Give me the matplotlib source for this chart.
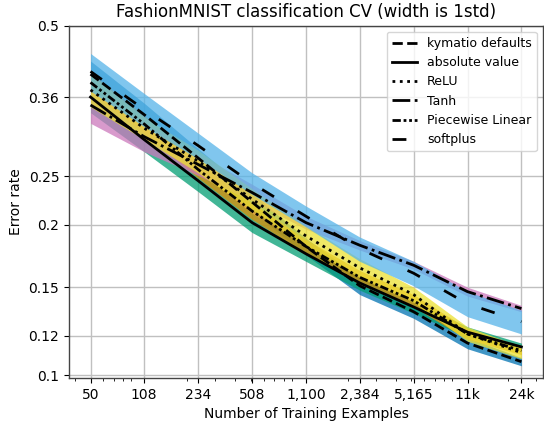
import matplotlib
matplotlib.use('Agg')
import matplotlib.pyplot as plt
from matplotlib.ticker import NullLocator
import numpy as np

# training set sizes and tick labels
n_train = [50, 108, 234, 508, 1100, 2384, 5165, 11191, 24248]
x_labels = ['50', '108', '234', '508', '1,100', '2,384', '5,165', '11k', '24k']
y_ticks = [0.1, 0.12, 0.15, 0.2, 0.25, 0.36, 0.5]

# mean CV error per nonlinearity
kymatio = [0.400, 0.332, 0.272, 0.222, 0.181, 0.151, 0.134, 0.116, 0.1065]
absolute = [0.360, 0.296, 0.245, 0.202, 0.175, 0.153, 0.137, 0.122, 0.114]
relu = [0.372, 0.312, 0.268, 0.225, 0.190, 0.164, 0.145, 0.121, 0.111]
tanh = [0.347, 0.300, 0.264, 0.232, 0.202, 0.182, 0.166, 0.147, 0.136]
piecewise = [0.385, 0.318, 0.258, 0.213, 0.181, 0.157, 0.141, 0.121, 0.112]
softplus = [0.405, 0.340, 0.288, 0.242, 0.208, 0.179, 0.160, 0.139, 0.128]

# one standard deviation
kymatio_std = [0.025, 0.018, 0.012, 0.009, 0.007, 0.006, 0.004, 0.003, 0.002]
absolute_std = [0.025, 0.016, 0.012, 0.009, 0.006, 0.005, 0.004, 0.003, 0.002]
relu_std = [0.028, 0.016, 0.014, 0.011, 0.009, 0.007, 0.005, 0.004, 0.003]
tanh_std = [0.028, 0.020, 0.013, 0.009, 0.006, 0.004, 0.003, 0.003, 0.002]
piecewise_std = [0.018, 0.013, 0.010, 0.008, 0.006, 0.005, 0.004, 0.003, 0.002]
softplus_std = [0.035, 0.026, 0.017, 0.012, 0.010, 0.010, 0.009, 0.008, 0.007]

names = ['kymatio defaults', 'absolute value', 'ReLU', 'Tanh', 'Piecewise Linear', 'softplus']
means = [kymatio, absolute, relu, tanh, piecewise, softplus]
stds = [kymatio_std, absolute_std, relu_std, tanh_std, piecewise_std, softplus_std]
colors = ['#0173b2', '#029e73', '#ece133', '#cc78bc', '#de8f05', '#56b4e9']
styles = ['--', '-', ':', '-.', (0, (3, 1, 1, 1, 1, 1)), (0, (5, 10))]
fill_order = [0, 1, 4, 3, 2, 5]

fig = plt.figure(figsize=(5.44, 4.25), dpi=100)
ax = fig.add_axes([0.1268, 0.1106, 0.8713, 0.8290])

for i in fill_order:
    m = np.array(means[i])
    s = np.array(stds[i])
    ax.fill_between(n_train, m - s, m + s, color=colors[i], alpha=0.75, lw=0)
for i in range(len(names)):
    ax.plot(n_train, means[i], color='black', linestyle=styles[i], lw=2, label=names[i])

ax.set_xscale('log')
ax.set_yscale('log')
ax.set_xticks(n_train, x_labels)
ax.set_yticks(y_ticks, [f'{t:g}' for t in y_ticks])
ax.yaxis.set_minor_locator(NullLocator())
ax.set_ylim(0.0988, 0.5)
ax.grid(True, which='major', color='#c0c0c0', lw=1)
ax.set_axisbelow(True)
for sp in ax.spines.values():
    sp.set_color('#444444')
    sp.set_linewidth(1.0)

ax.set_title('FashionMNIST classification CV (width is 1std)', fontsize=12)
ax.set_xlabel('Number of Training Examples')
ax.set_ylabel('Error rate')
ax.legend(loc='upper right', fontsize=9)

fig.savefig('out.png', dpi=100)
